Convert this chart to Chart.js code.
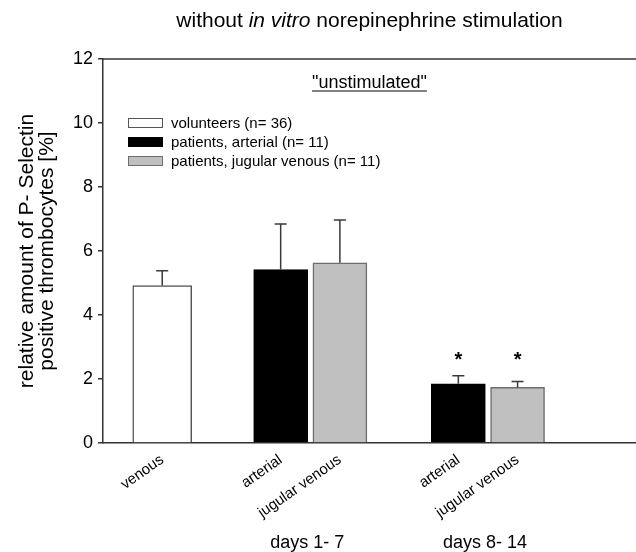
<!DOCTYPE html>
<html><head><meta charset="utf-8">
<script src="https://cdn.jsdelivr.net/npm/chart.js@4"></script>
<style>html,body{margin:0;padding:0;background:#fff}#wrap{width:636px;height:552px}</style>
</head><body><div id="wrap"><canvas id="c" width="636" height="552"></canvas></div>
<script>
const categories = ['', 'venous', '', 'arterial', 'jugular venous', '', 'arterial', 'jugular venous', '', ''];
const seriesLabels = ['volunteers (n= 36)', 'patients, arterial (n= 11)', 'patients, jugular venous (n= 11)'];
const volunteers = [null, 4.92, null, null, null, null, null, null, null, null];
const arterial   = [null, null, null, 5.42, null, null, 1.85, null, null, null];
const jugular    = [null, null, null, null, 5.63, null, null, 1.74, null, null];
const volunteersErr = [null, 0.46, null, null, null, null, null, null, null, null];
const arterialErr   = [null, null, null, 1.42, null, null, 0.25, null, null, null];
const jugularErr    = [null, null, null, null, 1.34, null, null, 0.18, null, null];
const arterialMark  = [null, null, null, null, null, null, '*', null, null, null];
const jugularMark   = [null, null, null, null, null, null, null, '*', null, null];
const markLevel = 2.7;
const groupLabels = ['days 1- 7', 'days 8- 14'];
const groupFirst = [3, 6];
const groupLast  = [4, 7];
const yMin = 0, yMax = 12, yStep = 2;
const titleParts = [['without ', false], ['in vitro', true], [' norepinephrine stimulation', false]];
const subtitle = '"unstimulated"';

const FONT = "'Liberation Sans', Arial, Helvetica, sans-serif";
const errs = [volunteersErr, arterialErr, jugularErr];
const marks = [null, arterialMark, jugularMark];

const extras = {
  id: 'extras',
  afterDatasetsDraw(chart) {
    const ctx = chart.ctx, y = chart.scales.y, x = chart.scales.x, ca = chart.chartArea;
    ctx.save();
    // error bars
    ctx.strokeStyle = '#3a3a3a'; ctx.lineWidth = 1.5;
    chart.data.datasets.forEach((ds, i) => {
      const meta = chart.getDatasetMeta(i);
      ds.data.forEach((v, j) => {
        const e = errs[i][j];
        if (v == null || e == null) return;
        const el = meta.data[j];
        const yt = y.getPixelForValue(v + e);
        const yb = y.getPixelForValue(v);
        ctx.beginPath();
        ctx.moveTo(el.x, yb); ctx.lineTo(el.x, yt);
        ctx.moveTo(el.x - 6, yt); ctx.lineTo(el.x + 6, yt);
        ctx.stroke();
      });
      const mk = marks[i];
      if (mk) {
        ctx.fillStyle = '#000'; ctx.font = 'bold 20px ' + FONT;
        ctx.textAlign = 'center'; ctx.textBaseline = 'middle';
        mk.forEach((m, j) => {
          if (!m) return;
          ctx.fillText(m, meta.data[j].x, y.getPixelForValue(markLevel) + 4);
        });
      }
    });
    // top frame line
    ctx.strokeStyle = '#333'; ctx.lineWidth = 1.5;
    ctx.beginPath(); ctx.moveTo(ca.left, ca.top); ctx.lineTo(ca.right, ca.top); ctx.stroke();
    // title with italic part
    ctx.fillStyle = '#000'; ctx.textBaseline = 'middle'; ctx.textAlign = 'left';
    let total = 0;
    titleParts.forEach(([t, it]) => { ctx.font = (it ? 'italic ' : '') + '21px ' + FONT; total += ctx.measureText(t).width; });
    let tx = (ca.left + ca.right) / 2 - total / 2;
    titleParts.forEach(([t, it]) => { ctx.font = (it ? 'italic ' : '') + '21px ' + FONT; ctx.fillText(t, tx, 21); tx += ctx.measureText(t).width; });
    // subtitle underlined
    ctx.font = '18px ' + FONT; ctx.textAlign = 'center';
    const sx = (ca.left + ca.right) / 2, sy = ca.top + 24;
    ctx.fillText(subtitle, sx, sy);
    const sw = ctx.measureText(subtitle).width;
    ctx.lineWidth = 1; ctx.strokeStyle = '#000';
    ctx.beginPath(); ctx.moveTo(sx - sw / 2, sy + 8); ctx.lineTo(sx + sw / 2, sy + 8); ctx.stroke();
    // legend
    ctx.font = '15px ' + FONT; ctx.textAlign = 'left';
    chart.data.datasets.forEach((ds, i) => {
      const ly = ca.top + 64 + i * 19;
      ctx.fillStyle = ds.backgroundColor;
      ctx.fillRect(ca.left + 25, ly - 5, 35, 10);
      ctx.strokeStyle = ds.borderColor; ctx.lineWidth = 1;
      ctx.strokeRect(ca.left + 25.5, ly - 4.5, 34, 9);
      ctx.fillStyle = '#000';
      ctx.fillText(ds.label, ca.left + 68, ly + 1);
    });
    // group labels
    ctx.font = '18px ' + FONT; ctx.textAlign = 'center';
    groupLabels.forEach((g, k) => {
      const gx = (x.getPixelForValue(groupFirst[k]) + x.getPixelForValue(groupLast[k])) / 2;
      ctx.fillText(g, gx - 3, 543);
    });
    ctx.restore();
  }
};

new Chart(document.getElementById('c'), {
  type: 'bar',
  data: {
    labels: categories,
    datasets: [
      { label: seriesLabels[0], data: volunteers, backgroundColor: '#ffffff', borderColor: '#555555', borderWidth: 1.5, barThickness: 59, grouped: false },
      { label: seriesLabels[1], data: arterial, backgroundColor: '#000000', borderColor: '#000000', borderWidth: 1, barThickness: 54, grouped: false },
      { label: seriesLabels[2], data: jugular, backgroundColor: '#c0c0c0', borderColor: '#6e6e6e', borderWidth: 1.5, barThickness: 54, grouped: false }
    ]
  },
  options: {
    responsive: false, animation: false, devicePixelRatio: 1,
    layout: { padding: { top: 59, left: 0, right: 0, bottom: 0 } },
    plugins: { legend: { display: false }, tooltip: { enabled: false }, title: { display: false } },
    scales: {
      x: {
        offset: false,
        grid: { display: false },
        border: { display: true, color: '#333', width: 1.5 },
        ticks: { autoSkip: false, maxRotation: 35, minRotation: 35, color: '#000', font: { family: FONT, size: 15 }, padding: 0 },
        afterFit(s) { s.height = 109; s.paddingRight = 0; s.paddingLeft = 0; }
      },
      y: {
        min: yMin, max: yMax,
        ticks: { stepSize: yStep, color: '#000', font: { family: FONT, size: 18 }, padding: 5 },
        grid: { drawOnChartArea: false, drawTicks: true, tickLength: 5, color: '#333', lineWidth: 1.5 },
        border: { display: true, color: '#333', width: 1.5 },
        title: { display: true, text: ['relative amount of P- Selectin', 'positive thrombocytes [%]'], color: '#000', font: { family: FONT, size: 21, lineHeight: 0.95 }, padding: { top: 17, bottom: 0 } },
        afterFit(s) { s.width = 103; }
      }
    }
  },
  plugins: [extras]
});
</script></body></html>
